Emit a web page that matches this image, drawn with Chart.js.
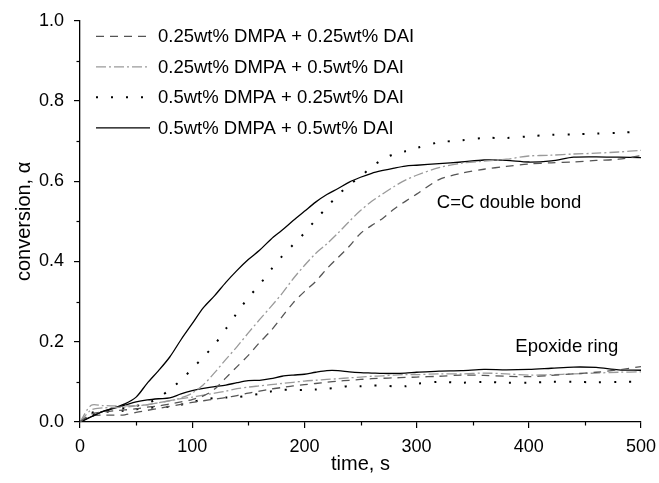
<!DOCTYPE html>
<html><head><meta charset="utf-8">
<script src="https://cdn.jsdelivr.net/npm/chart.js@4/dist/chart.umd.min.js"></script>
<style>html,body{margin:0;padding:0;background:#fff}#wrap{width:659px;height:483px}</style>
</head><body><div id="wrap"><canvas id="c" width="659" height="483"></canvas></div>
<script>
// time grid, s
const timeS = [0,10,20,30,40,50,60,70,80,90,100,110,120,130,140,150,160,170,180,190,200,210,220,230,240,250,260,270,280,290,300,320,340,360,380,400,420,440,460,480,500];

// C=C double bond conversion
const ccDmpa025Dai025 = [0,0.02,0.025,0.028,0.03,0.033,0.037,0.04,0.045,0.05,0.056,0.065,0.082,0.11,0.138,0.166,0.198,0.227,0.262,0.297,0.325,0.35,0.382,0.41,0.438,0.47,0.49,0.508,0.531,0.55,0.568,0.604,0.62,0.63,0.637,0.643,0.646,0.648,0.652,0.655,0.664];
const ccDmpa025Dai05  = [0,0.03,0.035,0.036,0.037,0.04,0.043,0.048,0.053,0.06,0.072,0.093,0.123,0.156,0.188,0.222,0.255,0.287,0.32,0.357,0.39,0.42,0.444,0.471,0.5,0.527,0.55,0.569,0.587,0.603,0.615,0.634,0.645,0.65,0.655,0.663,0.665,0.668,0.67,0.673,0.677];
const ccDmpa05Dai025  = [0,0.018,0.025,0.03,0.035,0.04,0.047,0.06,0.081,0.104,0.133,0.162,0.193,0.232,0.272,0.31,0.342,0.379,0.413,0.442,0.471,0.504,0.535,0.566,0.591,0.612,0.636,0.655,0.668,0.675,0.683,0.697,0.702,0.708,0.708,0.712,0.716,0.717,0.719,0.721,0.724];
const ccDmpa05Dai05   = [0,0.013,0.026,0.035,0.045,0.062,0.097,0.128,0.162,0.205,0.245,0.285,0.315,0.348,0.378,0.405,0.428,0.455,0.478,0.502,0.525,0.548,0.567,0.582,0.598,0.61,0.62,0.627,0.633,0.638,0.64,0.644,0.648,0.653,0.652,0.648,0.651,0.66,0.661,0.66,0.659];

// Epoxide ring conversion
const epDmpa025Dai025 = [0,0.015,0.017,0.017,0.018,0.024,0.029,0.034,0.039,0.044,0.049,0.053,0.057,0.061,0.066,0.072,0.077,0.082,0.086,0.09,0.093,0.096,0.099,0.102,0.104,0.106,0.108,0.109,0.11,0.111,0.112,0.114,0.117,0.116,0.114,0.113,0.116,0.12,0.124,0.13,0.138];
const epDmpa025Dai05  = [0,0.042,0.041,0.04,0.04,0.041,0.043,0.048,0.053,0.058,0.062,0.067,0.072,0.077,0.083,0.087,0.09,0.093,0.096,0.099,0.102,0.104,0.106,0.108,0.11,0.112,0.114,0.115,0.117,0.118,0.118,0.12,0.12,0.122,0.12,0.117,0.118,0.12,0.122,0.124,0.125];
const epDmpa05Dai025  = [0,0.022,0.027,0.024,0.029,0.032,0.035,0.037,0.038,0.043,0.05,0.056,0.06,0.061,0.062,0.066,0.07,0.076,0.08,0.08,0.08,0.081,0.083,0.086,0.09,0.089,0.091,0.091,0.089,0.089,0.095,0.1,0.098,0.1,0.098,0.098,0.1,0.1,0.099,0.1,0.1];
const epDmpa05Dai05   = [0,0.013,0.026,0.034,0.042,0.05,0.055,0.058,0.06,0.07,0.078,0.084,0.088,0.092,0.098,0.103,0.104,0.108,0.114,0.117,0.119,0.124,0.128,0.128,0.125,0.123,0.122,0.121,0.121,0.122,0.124,0.127,0.128,0.131,0.13,0.131,0.134,0.137,0.136,0.13,0.129];

const seriesLabels = ['0.25wt% DMPA + 0.25wt% DAI','0.25wt% DMPA + 0.5wt% DAI','0.5wt% DMPA + 0.25wt% DAI','0.5wt% DMPA + 0.5wt% DAI'];
const xTickValues = [0,100,200,300,400,500];
const yTickValues = [0,0.2,0.4,0.6,0.8,1.0];
const noteCC = {text:'C=C double bond', x:318, y:0.546};
const noteEp = {text:'Epoxide ring', x:388, y:0.186};

const FONT = '"Liberation Sans", Arial, sans-serif';
const styles = [
  {color:'#555555', dash:[8,6], width:1.3},
  {color:'#9a9a9a', dash:[10,3,2,3], width:1.3},
  {color:'#000000', dash:[2,13], width:2},
  {color:'#000000', dash:[], width:1.3}
];
const ccSets = [ccDmpa025Dai025, ccDmpa025Dai05, ccDmpa05Dai025, ccDmpa05Dai05];
const epSets = [epDmpa025Dai025, epDmpa025Dai05, epDmpa05Dai025, epDmpa05Dai05];
const pts = arr => timeS.map((t,i)=>({x:t, y:arr[i]}));
const datasets = [];
ccSets.forEach((a,i)=>datasets.push({label:seriesLabels[i], data:pts(a), borderColor:styles[i].color, borderDash:styles[i].dash, borderWidth:styles[i].width, pointRadius:0, tension:0.3, fill:false}));
epSets.forEach((a,i)=>datasets.push({label:seriesLabels[i]+' (epoxide)', data:pts(a), borderColor:styles[i].color, borderDash:styles[i].dash, borderWidth:styles[i].width, pointRadius:0, tension:0.3, fill:false}));

const overlay = {
  id:'overlay',
  afterDraw(chart){
    const ctx = chart.ctx, xs = chart.scales.x, ys = chart.scales.y, ca = chart.chartArea;
    ctx.save();
    // minor ticks
    ctx.strokeStyle = '#000'; ctx.lineWidth = 1.2; ctx.setLineDash([]);
    for (let v = 50; v < 500; v += 100) {
      const px = Math.round(xs.getPixelForValue(v)) + 0.5;
      ctx.beginPath(); ctx.moveTo(px, ca.bottom); ctx.lineTo(px, ca.bottom + 3.5); ctx.stroke();
    }
    for (let v = 0.1; v < 1; v += 0.2) {
      const py = Math.round(ys.getPixelForValue(v)) + 0.5;
      ctx.beginPath(); ctx.moveTo(ca.left, py); ctx.lineTo(ca.left - 3.5, py); ctx.stroke();
    }
    // legend
    ctx.font = '18.5px ' + FONT; ctx.fillStyle = '#000'; ctx.textBaseline = 'middle'; ctx.textAlign = 'left';
    const lx0 = ca.left + 16, lx1 = ca.left + 70, tx = ca.left + 78;
    seriesLabels.forEach((lab,i)=>{
      const y = ca.top + 15.5 + i*30.5;
      ctx.strokeStyle = styles[i].color; ctx.lineWidth = styles[i].width; ctx.setLineDash(styles[i].dash);
      ctx.beginPath(); ctx.moveTo(lx0, y); ctx.lineTo(lx1, y); ctx.stroke();
      ctx.setLineDash([]);
      ctx.fillText(lab, tx, y + 1);
    });
    // annotations
    [noteCC, noteEp].forEach(n=>{
      ctx.fillText(n.text, xs.getPixelForValue(n.x), ys.getPixelForValue(n.y));
    });
    ctx.restore();
  }
};

new Chart(document.getElementById('c'), {
  type:'line',
  data:{datasets},
  options:{
    responsive:false, animation:false, devicePixelRatio:1,
    layout:{padding:{top:20, right:0, left:0, bottom:0}},
    plugins:{legend:{display:false}, tooltip:{enabled:false}},
    scales:{
      x:{type:'linear', min:0, max:500,
        afterBuildTicks: s => { s.ticks = xTickValues.map(v=>({value:v})); },
        afterFit: s => { s.height = 61; s.paddingRight = 18; },
        ticks:{font:{family:FONT, size:18}, color:'#000', padding:8, maxRotation:0},
        grid:{drawOnChartArea:false, drawTicks:true, tickLength:6, color:'#000', lineWidth:1.2},
        border:{display:true, color:'#000', width:1.3},
        title:{display:true, text:'time, s', font:{family:FONT, size:20}, color:'#000', padding:{top:0,bottom:7}}
      },
      y:{type:'linear', min:0, max:1,
        afterBuildTicks: s => { s.ticks = yTickValues.map(v=>({value:v})); },
        afterFit: s => { s.width = 80; },
        ticks:{font:{family:FONT, size:18}, color:'#000', padding:10, callback:v=>v.toFixed(1)},
        grid:{drawOnChartArea:false, drawTicks:true, tickLength:6, color:'#000', lineWidth:1.2},
        border:{display:true, color:'#000', width:1.3},
        title:{display:true, text:'conversion, α', font:{family:FONT, size:20}, color:'#000', padding:{top:12,bottom:0}}
      }
    }
  },
  plugins:[overlay]
});
</script></body></html>
